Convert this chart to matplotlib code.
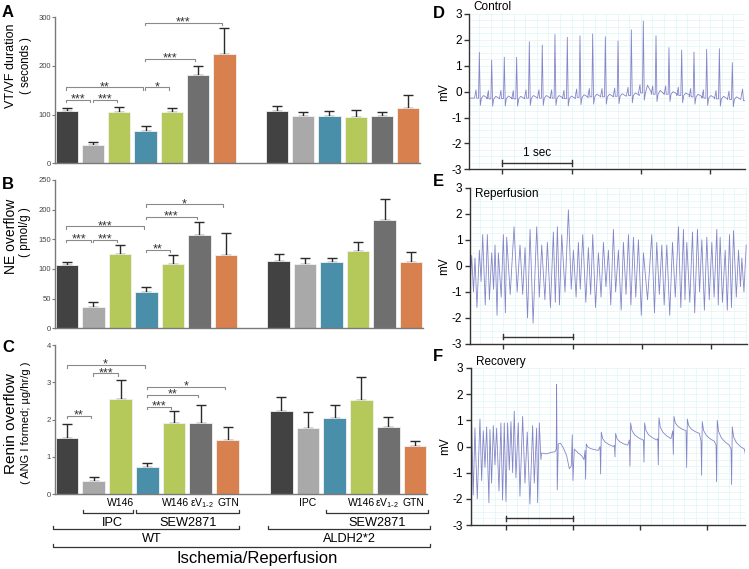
import matplotlib
matplotlib.use('Agg')
import matplotlib.pyplot as plt
import numpy as np
from matplotlib.ticker import MultipleLocator
from matplotlib.transforms import blended_transform_factory

plt.rcParams['font.family'] = ['Liberation Sans', 'DejaVu Sans']
plt.rcParams['axes.unicode_minus'] = False

# ---------------- bar data ----------------
DARK, LIGHT, BLUE, GREEN, GRAY, ORANGE = '#424242', '#a9a9a9', '#4a8fa9', '#b5c95a', '#6f6f6f', '#d9804f'
wt_pos = [0, 1, 2, 3, 4, 5, 6]
aldh_pos = [8, 9, 10, 11, 12, 13]
wt_colors = [DARK, LIGHT, GREEN, BLUE, GREEN, GRAY, ORANGE]
aldh_colors = [DARK, LIGHT, BLUE, GREEN, GRAY, ORANGE]

vtvf_wt = [108, 37, 105, 66, 105, 182, 224]
vtvf_wt_err = [6, 7, 10, 10, 8, 18, 53]
vtvf_aldh = [107, 97, 97, 95, 98, 114]
vtvf_aldh_err = [10, 8, 10, 14, 7, 27]

ne_wt = [106, 36, 126, 61, 108, 157, 123]
ne_wt_err = [6, 8, 14, 8, 15, 23, 37]
ne_aldh = [114, 109, 111, 131, 183, 111]
ne_aldh_err = [11, 9, 8, 14, 35, 18]

renin_wt = [1.52, 0.36, 2.55, 0.73, 1.91, 1.90, 1.46]
renin_wt_err = [0.37, 0.10, 0.52, 0.12, 0.31, 0.50, 0.35]
renin_aldh = [2.24, 1.78, 2.04, 2.53, 1.81, 1.30]
renin_aldh_err = [0.38, 0.42, 0.34, 0.60, 0.25, 0.14]

# significance brackets: (from bar, to bar, height, stars)
vtvf_sig = [(0, 1, 131, '***'), (1, 2, 131, '***'), (0, 3, 156, '**'), (3, 4, 156, '*'),
            (3, 5, 214, '***'), (3, 6, 288, '***')]
ne_sig = [(0, 1, 149, '***'), (1, 2, 149, '***'), (0, 3, 172, '***'), (3, 4, 132, '**'),
          (3, 5, 188, '***'), (3, 6, 209, '*')]
renin_sig = [(0, 1, 2.11, '**'), (1, 2, 3.24, '***'), (0, 3, 3.46, '*'), (3, 4, 2.35, '***'),
             (3, 5, 2.66, '**'), (3, 6, 2.88, '*')]

# ---------------- ECG data ----------------
# Control: beat times (s), R peak (mV), baseline (mV), T-wave height
ctrl_beat_t = [-0.331, -0.153, 0.029, 0.207, 0.390, 0.577, 0.760, 0.938, 1.121, 1.304, 1.487,
               1.670, 1.862, 2.035, 2.218, 2.405, 2.588, 2.766, 2.949, 3.132, 3.319]
ctrl_peak = [1.52, 1.22, 1.33, 1.33, 1.93, 1.80, 2.21, 2.10, 2.16, 2.23, 2.12,
             1.96, 2.39, 2.73, 2.16, 1.70, 1.61, 1.53, 1.64, 1.66, 1.12]
ctrl_base = [-0.25, -0.28, -0.27, -0.28, -0.25, -0.25, -0.25, -0.27, -0.22, -0.20, -0.20,
             -0.18, -0.15, -0.05, -0.10, -0.10, -0.15, -0.20, -0.25, -0.28, -0.30]
ctrl_twave = [0.1, 0.1, 0.1, 0.1, 0.1, 0.1, 0.1, 0.1, 0.1, 0.1, 0.1,
              0.1, 0.1, 0.3, 0.15, 0.1, 0.1, 0.1, 0.1, 0.1, 0.1]

# Reperfusion: peaks and troughs of the fibrillation trace
rep_peak_t = [-0.456, -0.408, -0.345, -0.297, -0.230, -0.167, -0.119, -0.071, 0.001, 0.049,
              0.155, 0.241, 0.314, 0.386, 0.482, 0.554, 0.636, 0.722, 0.780, 0.843, 0.939,
              1.011, 1.083, 1.146, 1.227, 1.290, 1.372, 1.444, 1.516, 1.588, 1.660, 1.732,
              1.805, 1.877, 1.949, 2.021, 2.141, 2.213, 2.286, 2.358, 2.440, 2.526, 2.598,
              2.646, 2.728, 2.800, 2.863, 2.935, 3.007, 3.079, 3.127, 3.200, 3.262, 3.320,
              3.392, 3.440, 3.503]
rep_peak_v = [0.4, 0.3, 0.6, 1.2, 1.2, 0.5, 0.8, 0.5, 1.2, 1.1, 1.5, 0.8, 0.7, 1.4, 1.5, 0.8,
              0.9, 1.3, 1.5, 1.2, 2.15, 0.6, 0.9, 1.2, 0.7, 1.2, 0.5, 0.9, 0.6, 1.4, 0.6, 0.9,
              1.2, 1.1, 1.0, 0.5, 1.2, 0.9, 0.8, 0.8, 0.9, 1.5, 1.4, 0.9, 1.3, 1.4, 1.0, 1.1,
              0.9, 1.4, 1.1, 0.6, 1.2, 1.35, 0.6, 0.3, 0.8]
rep_trough_t = [-0.43, -0.38, -0.32, -0.26, -0.20, -0.14, -0.09, -0.03, 0.03, 0.10, 0.20, 0.28,
                0.35, 0.43, 0.52, 0.60, 0.68, 0.75, 0.81, 0.89, 0.98, 1.05, 1.11, 1.19, 1.26,
                1.33, 1.41, 1.48, 1.55, 1.62, 1.70, 1.77, 1.84, 1.91, 1.99, 2.08, 2.18, 2.25,
                2.32, 2.40, 2.48, 2.56, 2.62, 2.69, 2.76, 2.83, 2.90, 2.97, 3.04, 3.10, 3.16,
                3.23, 3.29, 3.36, 3.42, 3.47]
rep_trough_v = [-1.0, -1.6, -0.6, -1.5, -1.3, -0.9, -1.9, -1.2, -1.8, -1.1, -1.0, -1.1, -2.0,
                -2.2, -1.2, -1.3, -1.6, -1.4, -1.5, -1.0, -0.9, -1.2, -0.9, -1.4, -1.1, -1.6,
                -1.2, -0.8, -1.5, -1.0, -1.7, -1.1, -1.5, -1.2, -1.9, -1.3, -1.8, -1.1, -1.5,
                -1.9, -1.2, -1.6, -1.3, -1.4, -1.8, -1.0, -1.7, -1.3, -1.2, -1.5, -1.4, -1.7,
                -1.6, -1.2, -0.8, -1.0]

# Recovery: fibrillation part, transition part, then regular beats
rec_vt_peak_t = [-0.508, -0.459, -0.384, -0.334, -0.284, -0.235, -0.185, -0.135, -0.071, -0.021,
                 0.029, 0.079, 0.128, 0.188, 0.253, 0.322, 0.402, 0.462, 0.502]
rec_vt_peak_v = [0.85, 0.7, 1.05, 0.6, 0.75, 0.65, 0.8, 0.7, 0.9, 0.9, 0.9, 0.95, 1.35, 0.9,
                 1.15, 0.55, 0.8, 0.7, 0.9]
rec_vt_trough_t = [-0.484, -0.424, -0.359, -0.309, -0.250, -0.210, -0.160, -0.100, -0.046,
                   0.004, 0.054, 0.104, 0.153, 0.213, 0.288, 0.362, 0.427, 0.477, 0.526]
rec_vt_trough_v = [-1.85, -2.0, -1.3, -0.8, -2.15, -1.4, -0.7, -1.7, -2.05, -2.1, -0.9, -1.0,
                   -1.2, -1.9, -1.4, -2.2, -1.4, -2.15, -0.5]
rec_mid_t = [0.536, 0.611, 0.686, 0.735, 0.755, 0.760, 0.770, 0.785, 0.820, 0.860, 0.910, 0.950,
             0.979, 0.994, 1.004, 1.024, 1.084, 1.133, 1.168]
rec_mid_v = [-0.25, -0.28, -0.22, -0.20, -0.10, 2.37, -1.66, 0.10, 0.12, -0.05, -0.35, -0.85,
             -0.75, 0.45, -1.30, -0.10, -0.25, -0.35, -0.50]
rec_beat_t = [1.193, 1.417, 1.631, 1.855, 2.064, 2.278, 2.502, 2.701, 2.924, 3.148, 3.372, 3.586]
rec_up = [0.1, 0.55, 0.5, 0.9, 0.9, 1.1, 1.15, 1.05, 0.95, 1.0, 0.75, 0.75]
rec_down = [-1.25, -1.05, -0.4, -0.75, -0.6, -0.7, -0.3, -0.8, -1.1, -1.35, -1.45, -1.65]
rec_base = [-0.15, 0.0, 0.05, 0.25, 0.25, 0.3, 0.6, 0.5, 0.2, 0.05, -0.1, -0.3]

W, H = 749, 569
fig = plt.figure(figsize=(W / 100, H / 100), dpi=100)


def fx(px):
    return px / W


def fy(py):
    return 1 - py / H


def bar_panel(rect, wt, wt_err, aldh, aldh_err, sig, ymax, ystep):
    ax = fig.add_axes(rect)
    pos = wt_pos + aldh_pos
    vals = wt + aldh
    errs = wt_err + aldh_err
    cols = wt_colors + aldh_colors
    ax.bar(pos, vals, width=0.85, color=cols, edgecolor='#f2f2f2', linewidth=0.6, zorder=2)
    ax.errorbar(pos, vals, yerr=[np.zeros(len(errs)), errs], fmt='none', ecolor='#2a2a2a',
                elinewidth=1, capsize=3.3, capthick=1, zorder=1)
    tick = 0.016 * ymax
    for a, b, y, s in sig:
        x0, x1 = a - 0.02, b - 0.1
        ax.plot([x0, x0, x1, x1], [y - tick, y, y, y - tick], color='#8a8a8a', lw=0.8,
                clip_on=False)
        ax.text((x0 + x1) / 2, y - 0.018 * ymax, s, ha='center', va='baseline', fontsize=9,
                color='#333333')
    ax.set_xlim(-0.45, 13.45)
    ax.set_ylim(0, ymax)
    ax.set_yticks(np.arange(0, ymax + ystep / 2, ystep))
    ax.set_xticks([])
    for side in ['top', 'right']:
        ax.spines[side].set_visible(False)
    for side in ['left', 'bottom']:
        ax.spines[side].set_color('#7a7a7a')
        ax.spines[side].set_linewidth(1)
    ax.tick_params(axis='y', labelsize=5.5, length=2, width=0.8, color='#7a7a7a',
                   labelcolor='#444444', pad=1)
    return ax


ax_a = bar_panel([fx(55), fy(163.3), fx(365), 146 / H], vtvf_wt, vtvf_wt_err, vtvf_aldh,
                 vtvf_aldh_err, vtvf_sig, 300, 100)
ax_b = bar_panel([fx(55), fy(328.3), fx(368), 148.3 / H], ne_wt, ne_wt_err, ne_aldh,
                 ne_aldh_err, ne_sig, 250, 50)
ax_c = bar_panel([fx(55), fy(494.3), fx(372), 149.3 / H], renin_wt, renin_wt_err, renin_aldh,
                 renin_aldh_err, renin_sig, 4, 1)

# y labels and panel letters
fig.text(fx(11.5), fy(66), 'VT/VF duration', rotation=90, ha='center', va='center', fontsize=9)
fig.text(fx(26), fy(66), '( seconds )', rotation=90, ha='center', va='center', fontsize=8.3)
fig.text(fx(11.5), fy(236), 'NE overflow', rotation=90, ha='center', va='center', fontsize=10)
fig.text(fx(25), fy(232), '( pmol/g )', rotation=90, ha='center', va='center', fontsize=8.5)
fig.text(fx(11), fy(424), 'Renin overflow', rotation=90, ha='center', va='center', fontsize=11)
fig.text(fx(26), fy(423), '( ANG I formed; µg/hr/g )', rotation=90, ha='center', va='center',
         fontsize=8)
for letter, x, y in [('A', 2, 5), ('B', 2, 177), ('C', 2, 340), ('D', 433, 6), ('E', 433, 174),
                     ('F', 433, 349)]:
    fig.text(fx(x), fy(y), letter, ha='left', va='top', fontsize=12, fontweight='bold')

# group labels under panel C
tr = blended_transform_factory(ax_c.transData, fig.transFigure)


def group(x0, x1, ypx, label, ylab, size, xl=None):
    yb = fy(ypx)
    ax_c.plot([x0, x0, x1, x1], [yb + 3 / H, yb, yb, yb + 3 / H], color='#333333', lw=0.9,
              transform=tr, clip_on=False)
    if label:
        ax_c.text((x0 + x1) / 2 if xl is None else xl, fy(ylab), label, ha='center',
                  va='center', fontsize=size, transform=tr)


ev12 = r'$\mathregular{\varepsilon V_{1\text{-}2}}$'
for x, lab in [(2, 'W146'), (4.05, 'W146'), (5.06, ev12), (6.03, 'GTN'), (9, 'IPC'),
               (11.0, 'W146'), (11.95, ev12), (12.95, 'GTN')]:
    ax_c.text(x, fy(503), lab, ha='center', va='center', fontsize=7.5, transform=tr)
group(0.58, 2.48, 513, 'IPC', 523, 9.2, xl=1.7)
group(2.59, 6.44, 513, 'SEW2871', 523, 9.2)
group(9.68, 13.49, 513, 'SEW2871', 523, 9.2)
group(-0.54, 6.44, 529, 'WT', 539.5, 9.2, xl=3.15)
group(7.52, 13.56, 529, 'ALDH2*2', 539.5, 9.2)
group(-0.54, 13.56, 546.5, 'Ischemia/Reperfusion', 558.5, 12, xl=7.1)

# ---------------- ECG traces ----------------
ctrl_t, ctrl_v = [-0.48], [ctrl_base[0]]
for t0, pk, b, tw in zip(ctrl_beat_t, ctrl_peak, ctrl_base, ctrl_twave):
    ctrl_t += [t0 - 0.07, t0 - 0.048, t0 - 0.04, t0 - 0.012, t0, t0 + 0.014, t0 + 0.03,
               t0 + 0.06, t0 + 0.09, t0 + 0.12]
    ctrl_v += [b, b + 0.32, b, b, pk, b - 0.28, b, b + tw, b + 0.5 * tw, b]
ctrl_t += [3.44, 3.467, 3.48, 3.51]
ctrl_v += [-0.3, 0.1, -0.35, -0.35]

rep_t = np.array([-0.48] + rep_peak_t + rep_trough_t)
rep_v = np.array([-0.9] + rep_peak_v + rep_trough_v)
order = np.argsort(rep_t)
rep_t, rep_v = rep_t[order], rep_v[order]

vt_t = np.array(rec_vt_peak_t + rec_vt_trough_t)
vt_v = np.array(rec_vt_peak_v + rec_vt_trough_v)
order = np.argsort(vt_t)
rec_t = [-0.53] + list(vt_t[order]) + rec_mid_t
rec_v = [-0.4] + list(vt_v[order]) + rec_mid_v
for t0, up, dn, b in zip(rec_beat_t, rec_up, rec_down, rec_base):
    rec_t += [t0 - 0.008, t0, t0 + 0.01, t0 + 0.03, t0 + 0.07, t0 + 0.13, t0 + 0.19]
    rec_v += [b, dn, up, b + 0.55 * (up - b), b + 0.3 * (up - b), b + 0.12 * (up - b), b]


def ecg_panel(rect, xlim, t, v, bar_y):
    ax = fig.add_axes(rect)
    ax.plot(t, v, color='#8585c8', lw=0.6)
    ax.set_xlim(*xlim)
    ax.set_ylim(-3, 3)
    ax.set_xticks([0, 1, 2, 3])
    ax.set_xticklabels([])
    ax.set_yticks([-3, -2, -1, 0, 1, 2, 3])
    ax.xaxis.set_minor_locator(MultipleLocator(1 / 6))
    ax.yaxis.set_minor_locator(MultipleLocator(0.25))
    ax.grid(which='both', color='#dff5f7', lw=0.5)
    ax.set_axisbelow(True)
    ax.tick_params(which='minor', length=0)
    ax.tick_params(which='major', labelsize=8.5, length=3.5, width=1, color='#333333', pad=2)
    for side in ['top', 'right']:
        ax.spines[side].set_visible(False)
    for side in ['left', 'bottom']:
        ax.spines[side].set_color('#333333')
        ax.spines[side].set_linewidth(1)
    ax.set_ylabel('mV', fontsize=8.5, labelpad=1)
    ax.plot([0, 1], [bar_y, bar_y], color='#333333', lw=1)
    ax.plot([0, 0], [bar_y - 0.1, bar_y + 0.1], color='#333333', lw=1)
    ax.plot([1, 1], [bar_y - 0.1, bar_y + 0.1], color='#333333', lw=1)
    return ax


ax_d = ecg_panel([fx(469.3), fy(169.3), fx(275.7), 155.3 / H], (-0.476, 3.502), ctrl_t, ctrl_v,
                 -2.76)
ax_d.text(0.5, -2.6, '1 sec', ha='center', va='bottom', fontsize=8.5)
ax_d.text(0.014, 1.025, 'Control', transform=ax_d.transAxes, ha='left', va='baseline',
          fontsize=8.5)

ax_e = ecg_panel([fx(470), fy(344), fx(276.7), 156.3 / H], (-0.48, 3.51), rep_t, rep_v, -2.72)
ax_e.text(0.018, 0.995, 'Reperfusion', transform=ax_e.transAxes, ha='left', va='top',
          fontsize=8.5)

ax_f = ecg_panel([fx(470.7), fy(525), fx(274.3), 157 / H], (-0.522, 3.572), rec_t, rec_v, -2.75)
ax_f.text(0.018, 1.02, 'Recovery', transform=ax_f.transAxes, ha='left', va='baseline',
          fontsize=8.5)

fig.savefig('out.png', dpi=100)
